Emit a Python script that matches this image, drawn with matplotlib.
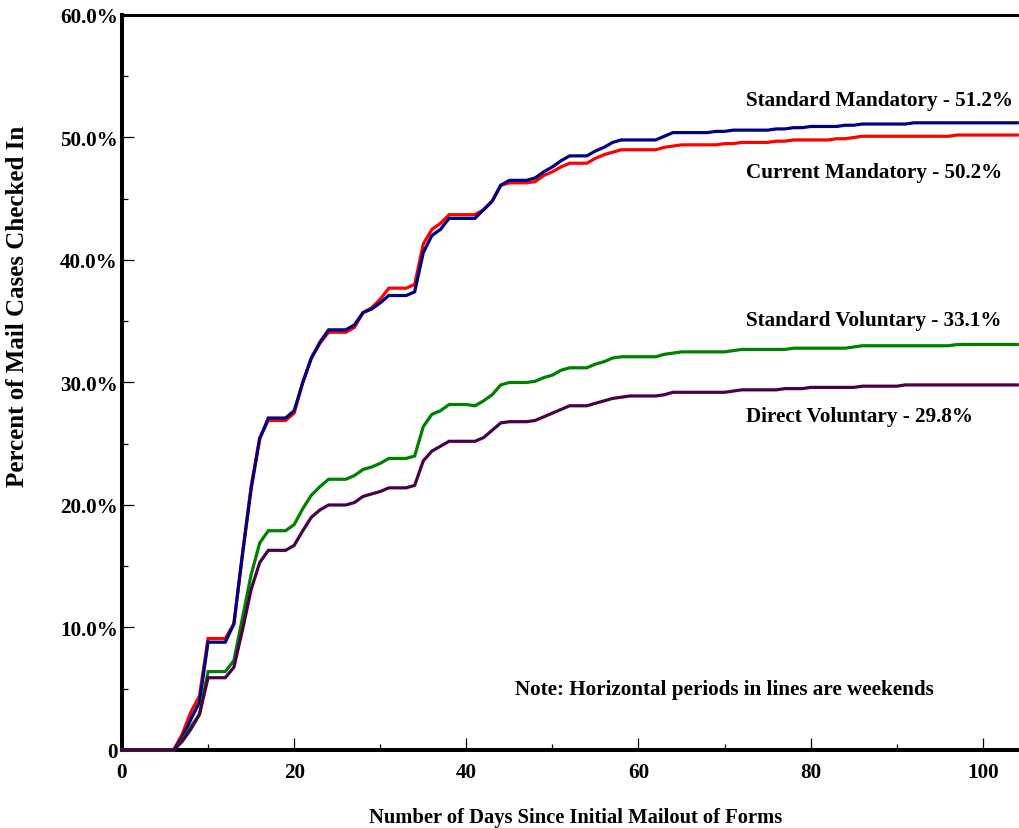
import numpy as np
import matplotlib
matplotlib.use("Agg")
import matplotlib.pyplot as plt
from matplotlib.ticker import MultipleLocator, FuncFormatter

plt.rcParams['font.family'] = ['Liberation Serif', 'DejaVu Serif']
plt.rcParams['font.weight'] = 'bold'

days = np.arange(0, 105)

# Standard Mandatory (blue)
std_mand = [0, 0, 0, 0, 0, 0, 0, 1.0, 2.5, 3.9,
            8.8, 8.8, 8.8, 10.3, 16.0, 21.3, 25.4, 27.1, 27.1, 27.1,
            27.7, 30.0, 32.0, 33.3, 34.3, 34.3, 34.3, 34.7, 35.7, 36.0,
            36.5, 37.1, 37.1, 37.1, 37.4, 40.6, 42.0, 42.5, 43.4, 43.4,
            43.4, 43.4, 44.1, 44.8, 46.1, 46.5, 46.5, 46.5, 46.7, 47.2,
            47.6, 48.1, 48.5, 48.5, 48.5, 48.9, 49.2, 49.6, 49.8, 49.8,
            49.8, 49.8, 49.8, 50.1, 50.4, 50.4, 50.4, 50.4, 50.4, 50.5,
            50.5, 50.6, 50.6, 50.6, 50.6, 50.6, 50.7, 50.7, 50.8, 50.8,
            50.9, 50.9, 50.9, 50.9, 51.0, 51.0, 51.1, 51.1, 51.1, 51.1,
            51.1, 51.1, 51.2, 51.2, 51.2, 51.2, 51.2, 51.2, 51.2, 51.2,
            51.2, 51.2, 51.2, 51.2, 51.2]

# Current Mandatory (red)
cur_mand = [0, 0, 0, 0, 0, 0, 0, 1.3, 3.1, 4.4,
            9.1, 9.1, 9.1, 10.3, 16.0, 21.5, 25.5, 26.9, 26.9, 26.9,
            27.5, 30.0, 32.0, 33.2, 34.1, 34.1, 34.1, 34.5, 35.7, 36.1,
            36.8, 37.7, 37.7, 37.7, 38.0, 41.3, 42.5, 43.0, 43.7, 43.7,
            43.7, 43.7, 44.1, 44.8, 46.1, 46.3, 46.3, 46.3, 46.4, 46.9,
            47.2, 47.6, 47.9, 47.9, 47.9, 48.3, 48.6, 48.8, 49.0, 49.0,
            49.0, 49.0, 49.0, 49.2, 49.3, 49.4, 49.4, 49.4, 49.4, 49.4,
            49.5, 49.5, 49.6, 49.6, 49.6, 49.6, 49.7, 49.7, 49.8, 49.8,
            49.8, 49.8, 49.8, 49.9, 49.9, 50.0, 50.1, 50.1, 50.1, 50.1,
            50.1, 50.1, 50.1, 50.1, 50.1, 50.1, 50.1, 50.2, 50.2, 50.2,
            50.2, 50.2, 50.2, 50.2, 50.2]

# Standard Voluntary (green)
std_vol = [0, 0, 0, 0, 0, 0, 0, 0.8, 1.9, 2.9,
           6.4, 6.4, 6.4, 7.3, 10.8, 14.3, 16.9, 17.9, 17.9, 17.9,
           18.4, 19.7, 20.8, 21.5, 22.1, 22.1, 22.1, 22.4, 22.9, 23.1,
           23.4, 23.8, 23.8, 23.8, 24.0, 26.4, 27.4, 27.7, 28.2, 28.2,
           28.2, 28.1, 28.5, 29.0, 29.8, 30.0, 30.0, 30.0, 30.1, 30.4,
           30.6, 31.0, 31.2, 31.2, 31.2, 31.5, 31.7, 32.0, 32.1, 32.1,
           32.1, 32.1, 32.1, 32.3, 32.4, 32.5, 32.5, 32.5, 32.5, 32.5,
           32.5, 32.6, 32.7, 32.7, 32.7, 32.7, 32.7, 32.7, 32.8, 32.8,
           32.8, 32.8, 32.8, 32.8, 32.8, 32.9, 33.0, 33.0, 33.0, 33.0,
           33.0, 33.0, 33.0, 33.0, 33.0, 33.0, 33.0, 33.1, 33.1, 33.1,
           33.1, 33.1, 33.1, 33.1, 33.1]

# Direct Voluntary (purple)
dir_vol = [0, 0, 0, 0, 0, 0, 0, 0.7, 1.7, 2.9,
           5.9, 5.9, 5.9, 6.75, 9.8, 13.1, 15.3, 16.3, 16.3, 16.3,
           16.7, 17.9, 19.0, 19.6, 20.0, 20.0, 20.0, 20.2, 20.7, 20.9,
           21.1, 21.4, 21.4, 21.4, 21.6, 23.6, 24.4, 24.8, 25.2, 25.2,
           25.2, 25.2, 25.5, 26.1, 26.7, 26.8, 26.8, 26.8, 26.9, 27.2,
           27.5, 27.8, 28.1, 28.1, 28.1, 28.3, 28.5, 28.7, 28.8, 28.9,
           28.9, 28.9, 28.9, 29.0, 29.2, 29.2, 29.2, 29.2, 29.2, 29.2,
           29.2, 29.3, 29.4, 29.4, 29.4, 29.4, 29.4, 29.5, 29.5, 29.5,
           29.6, 29.6, 29.6, 29.6, 29.6, 29.6, 29.7, 29.7, 29.7, 29.7,
           29.7, 29.8, 29.8, 29.8, 29.8, 29.8, 29.8, 29.8, 29.8, 29.8,
           29.8, 29.8, 29.8, 29.8, 29.8]

series = [
    (cur_mand, '#ff0000', 'Current Mandatory - 50.2%', 47.2),
    (std_mand, '#000080', 'Standard Mandatory - 51.2%', 53.1),
    (std_vol, '#008000', 'Standard Voluntary - 33.1%', 35.1),
    (dir_vol, '#4a0048', 'Direct Voluntary - 29.8%', 27.3),
]

fig = plt.figure(figsize=(10.19, 8.29), dpi=100)
ax = fig.add_axes([0.1197, 0.0941, 0.8803, 0.8866])

for vals, col, lab, ly in series:
    ax.plot(days, vals, color=col, lw=2.3, solid_joinstyle='miter', clip_on=False, zorder=4)
    ax.text(72.5, ly, lab, fontsize=15.2, fontweight='bold', va='center', ha='left')

ax.text(45.6, 5.0, 'Note: Horizontal periods in lines are weekends',
        fontsize=15.2, fontweight='bold', va='center', ha='left')

ax.set_xlim(0, 104.2)
ax.set_ylim(0, 60)

ax.xaxis.set_major_locator(MultipleLocator(20))
ax.xaxis.set_minor_locator(MultipleLocator(10))
ax.yaxis.set_major_locator(MultipleLocator(10))
ax.yaxis.set_minor_locator(MultipleLocator(5))
ax.yaxis.set_major_formatter(FuncFormatter(lambda v, p: '0' if v == 0 else f'{v:.1f}%'))

ax.tick_params(which='major', direction='in', length=8.5, width=0.9, labelsize=15.2)
ax.tick_params(which='minor', direction='in', length=4.3, width=0.9)
ax.tick_params(axis='x', which='major', pad=9)
ax.tick_params(axis='y', which='major', pad=3)
ax.tick_params(axis='y', which='both', right=False)
ax.tick_params(axis='x', which='both', top=False)
for lbl in ax.get_xticklabels() + ax.get_yticklabels():
    lbl.set_fontweight('bold')

ax.spines['right'].set_visible(False)
ax.spines['left'].set_linewidth(2.9)
ax.spines['bottom'].set_linewidth(2.9)
ax.spines['top'].set_linewidth(2.2)

fig.text(576 / 1019, 1 - 818 / 829, 'Number of Days Since Initial Mailout of Forms',
         fontsize=14.8, fontweight='bold', ha='center', va='center')
fig.text(18 / 1019, 1 - 306 / 829, 'Percent of Mail Cases Checked In',
         fontsize=18, fontweight='bold', ha='center', va='center', rotation=90)

fig.savefig('out.png', dpi=100)
